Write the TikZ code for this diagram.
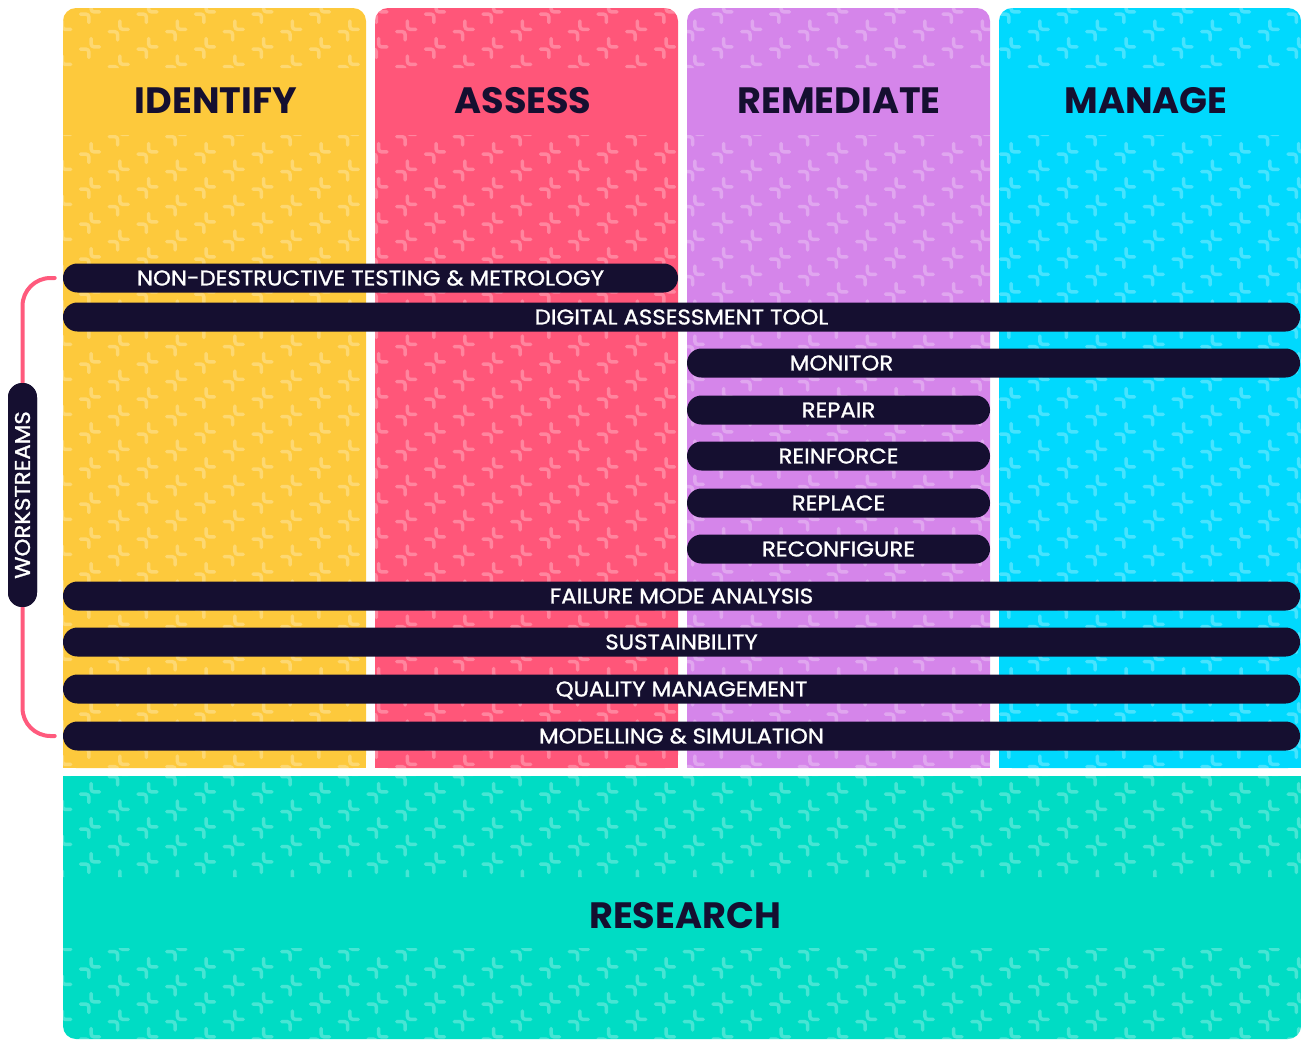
\documentclass[tikz,border=0pt]{standalone}
\usepackage{fontspec}
\setmainfont{Poppins}
\newfontfamily\barfont[FakeStretch=1.07, FakeBold=1.2]{Poppins}
\usetikzlibrary{calc}

\definecolor{inkc}{HTML}{150F30}
\definecolor{identc}{HTML}{FDC93C}
\definecolor{assessc}{HTML}{FF5679}
\definecolor{remedc}{HTML}{D585EA}
\definecolor{managec}{HTML}{00D9FE}
\definecolor{researchc}{HTML}{00DCC4}
\definecolor{bracec}{HTML}{FF5A7D}

% rows of broken crosses: #1 y of first row, #2 last row index, #3 x of first cross
\newcommand\crossrows[3]{%
  \foreach \j in {0,...,#2} {
    \pgfmathsetmacro\yy{#1+17.5*\j}
    \pgfmathsetmacro\xs{#3+28.75*mod(\j,2)}
    \draw[crossline] \foreach \i in {0,...,23} {
      ({\xs+57.5*\i+1.2},{\yy-9.5}) -- ++(0,8.3) -- ++(8.3,0)
      ({\xs+57.5*\i-9.5},{\yy+1.2}) -- ++(8.3,0) -- ++(0,8.3)
    };
  }%
}

% a bar: name, left x, right x, centre y, label
\newcommand\wsbar[5]{%
  \node[bar, minimum width={(#3-#2)*0.75pt}] (#1) at ({(#2+#3)/2},#4) {#5};%
}

\begin{document}
\begin{tikzpicture}[x=0.75pt,y=-0.75pt,
  crossline/.style={white, opacity=0.28, line width=2.6pt, line cap=round, rounded corners=2pt},
  header/.style={text=inkc, font=\bfseries\fontsize{27.5}{27.5}\selectfont, inner sep=0pt},
  bar/.style={fill=inkc, text=white, rounded corners=10.8pt, inner sep=0pt,
    minimum height=21.75pt, text height=11.2pt, text depth=0pt,
    font=\barfont\fontsize{16}{16}\selectfont},
  bracket/.style={bracec, line width=3pt, line cap=round, rounded corners=21pt}]

\useasboundingbox (0,0) rectangle (1301,1039);

% phase columns
\foreach \xa/\xb/\col in {63/366/identc, 375/678/assessc, 687/990/remedc, 999/1301/managec} {
  \fill[\col, rounded corners=9.75pt] (\xa,8) rectangle (\xb,768);
  \fill[\col] (\xa,100) rectangle (\xb,768);
}

% cross pattern on the columns, left plain behind the headings
\begin{scope}
  \clip[rounded corners=9.75pt] (63,8) rectangle (366,800) (375,8) rectangle (678,800)
        (687,8) rectangle (990,800) (999,8) rectangle (1301,800);
  \clip (0,8) rectangle (1301,68) (0,135) rectangle (1301,768);
  \crossrows{-22}{46}{32.5}
\end{scope}

% research block
\fill[researchc, rounded corners=9.75pt] (63,776) rectangle (1301,1039);
\fill[researchc] (63,776) rectangle (1301,900);
\begin{scope}
  \clip[rounded corners=9.75pt] (63,740) rectangle (1301,1039);
  \clip (0,776) rectangle (1301,877) (0,948) rectangle (1301,1039);
  \crossrows{758}{17}{32.5}
\end{scope}

% headings
\node[header] (identify)  at (216,101) {IDENTIFY};
\node[header] (assess)    at (523,101) {ASSESS};
\node[header] (remediate) at (839,101) {REMEDIATE};
\node[header] (manage)    at (1146,101) {MANAGE};
\node[header] (research)  at (685,916) {RESEARCH};

% workstream bars
\wsbar{ndt}{63}{678}{278}{NON-DESTRUCTIVE TESTING \& METROLOGY}
\wsbar{dat}{63}{1300}{317}{DIGITAL ASSESSMENT TOOL}
% the monitor label sits over the remediate column, not the bar centre
\wsbar{monitor}{687}{1300}{363}{MONITOR\hspace*{228pt}}
\wsbar{repair}{687}{990}{410}{REPAIR}
\wsbar{reinforce}{687}{990}{456}{REINFORCE}
\wsbar{replace}{687}{990}{503}{REPLACE}
\wsbar{reconfig}{687}{990}{549}{RECONFIGURE}
\wsbar{fma}{63}{1300}{596}{FAILURE MODE ANALYSIS}
\wsbar{sust}{63}{1300}{642}{SUSTAINBILITY}
\wsbar{qm}{63}{1300}{689}{QUALITY MANAGEMENT}
\wsbar{ms}{63}{1300}{736}{MODELLING \& SIMULATION}

% workstreams label and its bracket
\path (22.5,495) coordinate (wsc);
\node[bar, rotate=90, minimum width=168pt] (ws) at (wsc) {};
\draw[bracket] ([xshift=-6pt]ndt.west) -| (ws.east);
\draw[bracket] (ws.west) |- ([xshift=-6pt]ms.west);
\node[bar, rotate=90, minimum width=168pt] (wslabel) at (wsc) {WORKSTREAMS};
\end{tikzpicture}
\end{document}
